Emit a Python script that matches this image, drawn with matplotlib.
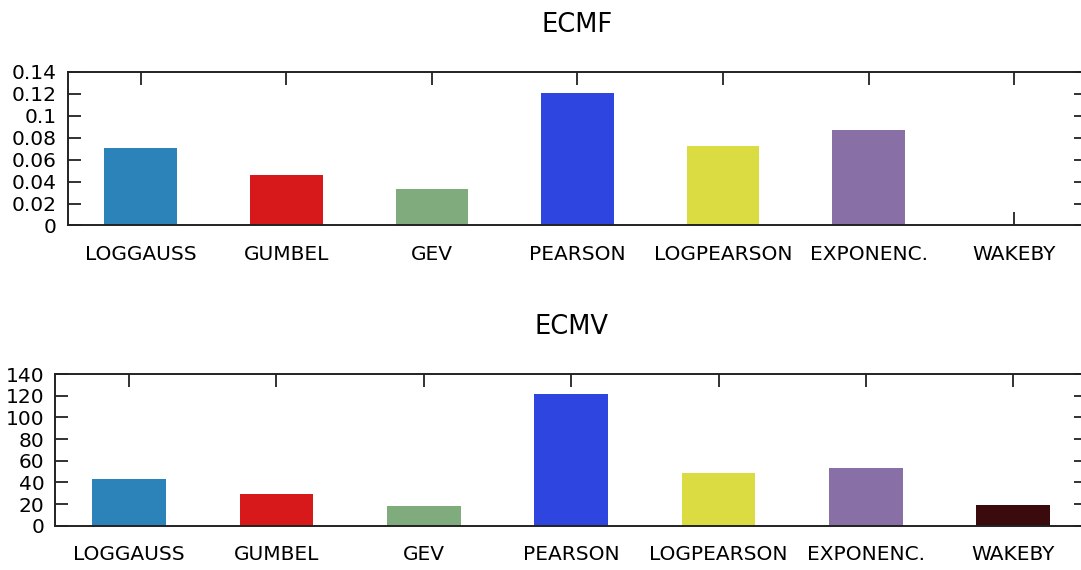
import matplotlib
matplotlib.use("Agg")
import matplotlib.pyplot as plt
from matplotlib.ticker import FuncFormatter

categories = ["LOGGAUSS", "GUMBEL", "GEV", "PEARSON", "LOGPEARSON", "EXPONENC.", "WAKEBY"]
ecmf = [0.071, 0.046, 0.033, 0.121, 0.072, 0.087, 0.0]
ecmv = [43.0, 29.3, 18.2, 121.3, 48.4, 53.5, 19.4]
colors = ["#2c83b9", "#d7191c", "#80ab7c", "#2f45e0", "#dbdb42", "#8870a6", "#3a0a0c"]

ecmf_ticks = [0, 0.02, 0.04, 0.06, 0.08, 0.1, 0.12, 0.14]
ecmv_ticks = [0, 20, 40, 60, 80, 100, 120, 140]

plt.rcParams["font.family"] = ["DejaVu Sans"]

fig = plt.figure(figsize=(10.81, 5.70), dpi=100)
ax1 = fig.add_axes([0.0629, 0.6044, 0.9426, 0.2698])
ax2 = fig.add_axes([0.0513, 0.0777, 0.9542, 0.2661])


def style_panel(ax, values, yticks, title):
    x = list(range(len(categories)))
    ax.bar(x, values, width=0.5, color=colors, edgecolor="none")
    ax.set_axisbelow(True)
    ax.set_xlim(-0.5, len(categories) - 0.5)
    ax.set_ylim(yticks[0], yticks[-1])
    ax.set_xticks(x)
    ax.set_xticklabels(categories, fontsize=14.5)
    ax.set_yticks(yticks)
    ax.yaxis.set_major_formatter(FuncFormatter(lambda v, p: f"{v:g}"))
    ax.tick_params(axis="y", labelsize=14.5, direction="in", length=9.5,
                   width=1.3, left=True, right=True, pad=8, color="#222222")
    ax.tick_params(axis="x", direction="in", length=9.5, width=1.3,
                   top=True, bottom=True, pad=14, color="#222222")
    for s in ax.spines.values():
        s.set_linewidth(1.4)
        s.set_color("#222222")
    ax.set_title(title, fontsize=18.5, pad=28.5)


style_panel(ax1, ecmf, ecmf_ticks, "ECMF")
style_panel(ax2, ecmv, ecmv_ticks, "ECMV")

fig.savefig("out.png", dpi=100)
